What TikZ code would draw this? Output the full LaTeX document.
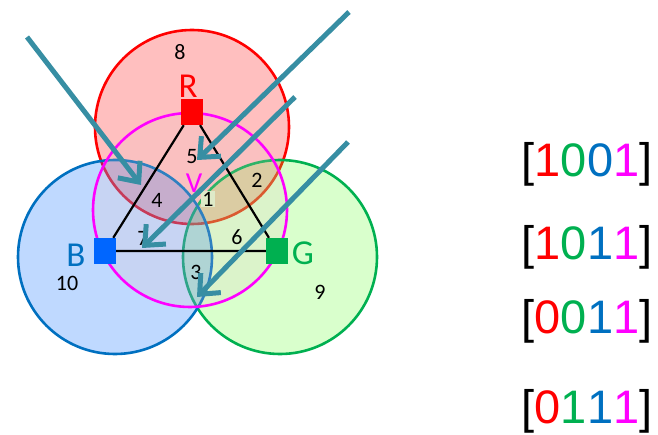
\documentclass[tikz,border=0pt]{standalone}
\usepackage{fontspec}
\setmainfont{Carlito}
\newfontfamily\arialfont{Liberation Sans}
\usepackage{tikz}
\usetikzlibrary{arrows.meta}
\definecolor{cR}{RGB}{255,0,0}
\definecolor{cG}{RGB}{0,176,80}
\definecolor{cB}{RGB}{0,112,192}
\definecolor{cM}{RGB}{255,0,255}
\definecolor{sqB}{RGB}{0,102,255}
\definecolor{fillB}{RGB}{0,102,255}
\definecolor{fillG}{RGB}{102,255,51}
\definecolor{fillM}{RGB}{230,195,195}
\definecolor{arr}{RGB}{55,142,163}
\definecolor{onebox}{RGB}{222,234,200}
\tikzset{
  ring/.style={line width=2.6pt},
  sq/.style={minimum width=22pt, minimum height=26pt, inner sep=0pt},
  num/.style={inner sep=0pt, font=\fontsize{22}{24}\selectfont},
  big/.style={inner sep=0pt, font=\fontsize{35}{37}\selectfont},
  code/.style={font=\arialfont\fontsize{47}{50}\selectfont},
  pointer/.style={arr, line width=5pt, -{Straight Barb[length=16pt, width=28pt]}}
}

\begin{document}
\begin{tikzpicture}[x=1pt, y=-1pt]
\useasboundingbox (0,0) rectangle (658,435);

% circles
\draw[ring, cR, fill=cR, fill opacity=0.25] (192,127) circle [radius=97];
\draw[ring, cG, fill=fillG, fill opacity=0.25] (280,257) circle [radius=97];
\draw[ring, cB, fill=fillB, fill opacity=0.25] (115,257) circle [radius=97];
\draw[ring, cM, fill=fillM, fill opacity=0.2] (190,210) circle [radius=97];

% vertices
\node[sq, fill=cR] (R) at (192,112) {};
\node[sq, fill=sqB] (B) at (105,251) {};
\node[sq, fill=cG] (G) at (277,251) {};
\draw[line width=2.2pt] (R) -- (B) -- (G) -- (R);

\node[big, cR] (lR) at (188,86) {R};
\node[big, cB] (lB) at (76,255) {B};
\node[big, cG] (lG) at (303,253) {G};
\node[cM, inner sep=0pt, font=\fontsize{29}{31}\selectfont] (lV) at (194,183) {V};

% region numbers
\node[num] (n8) at (180,52) {8};
\node[num] (n5) at (192,157) {5};
\node[num] (n2) at (257,180) {2};
\node[num] (n4) at (157,200) {4};
\node[num, fill=onebox, inner sep=1pt] (n1) at (208,199) {1};
\node[num] (n7) at (143,238) {7};
\node[num] (n6) at (237,237) {6};
\node[num] (n3) at (196,272) {3};
\node[num] (n10) at (67,283) {10};
\node[num] (n9) at (320,292) {9};

% arrows
\path
(27,37) coordinate (a1s)   (141,185) coordinate (a1e)
(349,12) coordinate (a2s)  (197,160) coordinate (a2e)
(295,97) coordinate (a3s)  (142,248) coordinate (a3e)
(348,142) coordinate (a4s) (197,297) coordinate (a4e);
\draw[pointer] (a1s) -- (a1e);
\draw[pointer] (a2s) -- (a2e);
\draw[pointer] (a3s) -- (a3e);
\draw[pointer] (a4s) -- (a4e);

% codes
\node[code] (c1) at (587,164) {[\textcolor{cR}{1}\textcolor{cG}{0}\textcolor{cB}{0}\textcolor{cM}{1}]};
\node[code] (c2) at (587,247) {[\textcolor{cR}{1}\textcolor{cG}{0}\textcolor{cB}{1}\textcolor{cM}{1}]};
\node[code] (c3) at (587,321) {[\textcolor{cR}{0}\textcolor{cG}{0}\textcolor{cB}{1}\textcolor{cM}{1}]};
\node[code] (c4) at (587,411) {[\textcolor{cR}{0}\textcolor{cG}{1}\textcolor{cB}{1}\textcolor{cM}{1}]};
\end{tikzpicture}
\end{document}
